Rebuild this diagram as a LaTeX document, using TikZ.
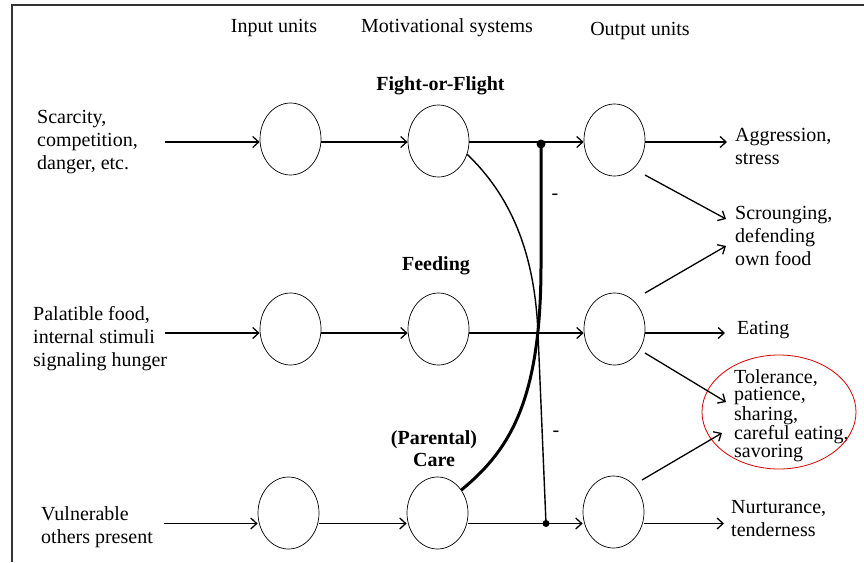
\documentclass[tikz,border=0pt]{standalone}
\usepackage{fontspec}
\setmainfont{Liberation Serif}
\usetikzlibrary{shapes.geometric,arrows.meta,calc}

\begin{document}
\begin{tikzpicture}[x=1pt,y=-1pt,
  unit/.style={draw, ellipse, minimum width=61pt, minimum height=72pt, inner sep=0pt, line width=0.7pt},
  txt/.style={font=\fontsize{20}{23}\selectfont, align=left, inner sep=0pt, anchor=west},
  head/.style={font=\fontsize{20}{23}\selectfont, inner sep=0pt},
  sys/.style={font=\bfseries\fontsize{20}{22}\selectfont, align=center, inner sep=0pt},
  arr/.style={line width=1.3pt, -{Straight Barb[length=6pt,width=11pt,line width=1.3pt]}},
  dotnode/.style={circle, fill, inner sep=0pt},
]
\useasboundingbox (0,0) rectangle (864,562);

% frame edges
\draw[line width=1.4pt, black!80] (12,562) -- (12,5) -- (864,5);

% column headings
\node[head] (hin)  at (274,28) {Input units};
\node[head] (hmot) at (447,28) {Motivational systems};
\node[head] (hout) at (640,31) {Output units};

% system labels
\node[sys] (lff)   at (440.5,86) {Fight-or-Flight};
\node[sys] (lfeed) at (436,266) {Feeding};
\node[sys] (lcare) at (434,449) {(Parental)\\Care};

% units
\node[unit] (in1) at (290.5,139) {};
\node[unit] (in2) at (290.5,329) {};
\node[unit] (in3) at (288.5,513) {};
\node[unit] (m1)  at (438.5,141) {};
\node[unit] (m2)  at (438.5,329) {};
\node[unit] (m3)  at (437.5,513) {};
\node[unit] (o1)  at (614.5,140) {};
\node[unit] (o2)  at (614.5,329) {};
\node[unit] (o3)  at (613.5,512) {};

% input descriptions
\node[txt] (s1) at (37,142) {Scarcity,\\competition,\\danger, etc.};
\node[txt] (s2) at (33,339) {Palatible food,\\internal stimuli\\signaling hunger};
\node[txt] (s3) at (41,527) {Vulnerable\\others present};

% output descriptions
\node[txt] (r1) at (735,146) {Aggression,\\stress};
\node[txt] (r2) at (735,236) {Scrounging,\\defending\\own food};
\node[txt] (r3) at (737,330) {Eating};
\node[txt, font=\fontsize{20}{17.3}\selectfont] (r4) at (734,416) {Tolerance,\\patience,\\sharing,\\careful eating,\\savoring};
\node[txt] (r5) at (731,519) {Nurturance,\\tenderness};

% highlight round the shared outputs
\node[draw=red!85!black, line width=0.8pt, ellipse, minimum width=154pt, minimum height=114pt, inner sep=0pt] (hl) at (779,412) {};

% arrow levels
\coordinate (a1) at (0,142);
\coordinate (a2) at (0,333);
\coordinate (a3) at (0,523.5);

% stimuli into input units
\coordinate (st1) at (165,142);
\coordinate (st2) at (165,333);
\coordinate (st3) at (164,523.5);
\draw[arr] (st1) -- (in1.west |- a1);
\draw[arr] (st2) -- (in2.west |- a2);
\draw[arr] (st3) -- (in3.west |- a3);

% input units into motivational systems
\draw[arr] (in1.east |- a1) -- (m1.west |- a1);
\draw[arr] (in2.east |- a2) -- (m2.west |- a2);
\draw[arr] (in3.east |- a3) -- (m3.west |- a3);

% motivational systems into output units
\draw[arr] (m1.east |- a1) -- (o1.west |- a1);
\draw[arr] (m2.east |- a2) -- (o2.west |- a2);
\draw[arr] (m3.east |- a3) -- (o3.west |- a3);

% junction dots
\node[dotnode, minimum size=9pt] (d1) at (541,144) {};
\node[dotnode, minimum size=7pt] (d3) at (546,523.5) {};

% inhibitory links
\draw[line width=3pt] (d1.center) -- (541,265) .. controls (541,400) and (510,450) .. (m3.44);
\draw[line width=1.4pt] (m1.-25) .. controls (515,200) and (535,260) .. (538,333) -- (d3.center);
\node[head] (minus1) at (555,197) {-};
\node[head] (minus2) at (556,434) {-};

% output units into behaviours
\coordinate (e1) at (727,142);
\coordinate (e3) at (725,333);
\coordinate (e5) at (724,523.5);
\draw[arr] (o1.east |- a1) -- (e1);
\draw[arr] (o2.east |- a2) -- (e3);
\draw[arr] (o3.east |- a3) -- (e5);

\coordinate (f1) at (645,175);
\coordinate (t1) at (726,219);
\coordinate (f2) at (645,293);
\coordinate (t2) at (726,246);
\coordinate (f3) at (645,353);
\coordinate (t3) at (726,402);
\coordinate (f4) at (642,480);
\coordinate (t4) at (722,433);
\draw[arr] (f1) -- (t1);
\draw[arr] (f2) -- (t2);
\draw[arr] (f3) -- (t3);
\draw[arr] (f4) -- (t4);
\end{tikzpicture}
\end{document}
